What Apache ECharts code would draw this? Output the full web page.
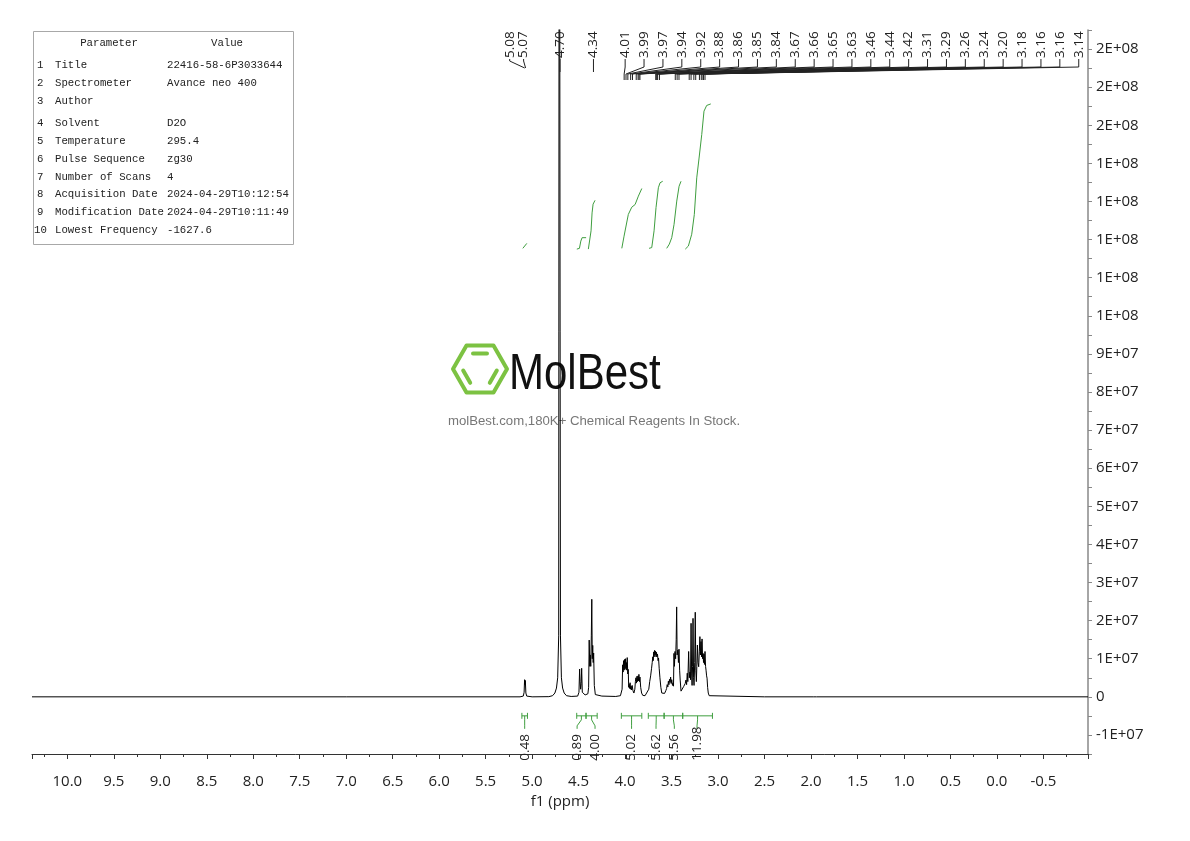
<!DOCTYPE html>
<html><head><meta charset="utf-8">
<script src="https://cdn.jsdelivr.net/npm/echarts@6/dist/echarts.min.js"></script>
<style>html,body{margin:0;padding:0;background:#fff}#c{width:1190px;height:841px}</style>
</head><body><div id="c"></div>
<script>
// ---- data ----
const spectrum = [
  [10.38, 0], [7.0, 0], [5.13, 0],
  [5.095, 0.2e6], [5.086, 1.2e6], [5.081, 4.5e6], [5.077, 3.2e6], [5.073, 4.3e6], [5.067, 1.0e6], [5.058, 0.2e6],
  [5.0, 0], [4.82, 0.05e6], [4.78, 0.3e6], [4.755, 1.0e6], [4.738, 2.3e6], [4.725, 5e6], [4.714, 1.6e7],
  [4.708, 3.0e8], [4.701, 3.0e8],
  [4.695, 1.6e7], [4.685, 5e6], [4.672, 2.3e6], [4.655, 1.0e6], [4.63, 0.3e6], [4.58, 0.1e6], [4.51, 0.2e6],
  [4.496, 1.2e6], [4.489, 7.3e6], [4.484, 4.0e6], [4.478, 2.0e6], [4.472, 3.5e6], [4.467, 7.5e6], [4.46, 1.2e6],
  [4.43, 0.5e6], [4.40, 0.8e6],
  [4.392, 2.5e6], [4.386, 1.49e7], [4.380, 8e6], [4.375, 1.1e7], [4.369, 8e6], [4.363, 1.6e7], [4.358, 2.56e7],
  [4.353, 1.0e7], [4.348, 1.35e7], [4.343, 9e6], [4.338, 1.15e7], [4.331, 3e6], [4.32, 0.6e6],
  [4.25, 0.2e6], [4.10, 0.1e6], [4.05, 0.3e6],
  [4.032, 2.0e6], [4.026, 8.4e6], [4.021, 6.5e6], [4.016, 9.5e6], [4.011, 7.0e6], [4.006, 9.8e6], [4.001, 7.2e6],
  [3.996, 1.0e7], [3.991, 7.5e6], [3.986, 9.0e6], [3.982, 7.0e6], [3.977, 1.03e7], [3.971, 6e6], [3.966, 7.2e6],
  [3.961, 2.5e6], [3.956, 3.3e6], [3.951, 2.2e6], [3.946, 3.7e6], [3.941, 2.0e6], [3.935, 2.8e6], [3.93, 1.8e6],
  [3.924, 3.0e6], [3.915, 1.6e6], [3.905, 1.0e6], [3.895, 2.0e6],
  [3.889, 4.0e6], [3.883, 5.0e6], [3.878, 3.6e6], [3.872, 5.4e6], [3.867, 4.0e6], [3.861, 5.5e6], [3.856, 4.2e6],
  [3.851, 5.9e6], [3.845, 4.0e6], [3.840, 5.2e6], [3.832, 2.5e6], [3.822, 1.0e6], [3.81, 0.4e6], [3.785, 0.3e6], [3.765, 0.8e6],
  [3.745, 2e6], [3.735, 4e6], [3.725, 5.5e6], [3.715, 7.5e6], [3.708, 9e6], [3.702, 1.05e7], [3.697, 9.5e6],
  [3.692, 1.18e7], [3.687, 1.05e7], [3.682, 1.22e7], [3.677, 1.1e7], [3.672, 1.2e7], [3.667, 1.05e7], [3.662, 1.17e7],
  [3.657, 1.05e7], [3.651, 1.12e7], [3.645, 9.5e6], [3.64, 1.02e7], [3.633, 7.5e6], [3.625, 5e6], [3.615, 2.5e6],
  [3.605, 1.0e6], [3.59, 0.6e6],
  [3.575, 0.9e6], [3.562, 1.6e6], [3.553, 2.2e6], [3.547, 3.2e6], [3.54, 2.6e6], [3.534, 4.1e6], [3.528, 3.2e6],
  [3.522, 4.6e6], [3.516, 3.8e6], [3.51, 5.2e6], [3.504, 3.5e6], [3.498, 4.5e6], [3.49, 3.0e6], [3.484, 3.6e6], [3.479, 2.8e6],
  [3.474, 1.14e7], [3.469, 8e6], [3.463, 1.19e7], [3.456, 1.0e7], [3.45, 1.5e7], [3.445, 2.36e7], [3.44, 1.1e7],
  [3.432, 1.23e7], [3.426, 9e6], [3.42, 1.25e7], [3.413, 7e6], [3.407, 4.4e6], [3.398, 1.5e6], [3.388, 1.2e6],
  [3.378, 2.0e6], [3.37, 2.7e6],
  [3.362, 2.4e6], [3.353, 3.5e6], [3.345, 4.4e6], [3.338, 3.2e6], [3.331, 6.2e6], [3.325, 4.0e6], [3.316, 1.19e7],
  [3.309, 5e6], [3.302, 6.5e6], [3.296, 4.5e6], [3.29, 1.93e7], [3.284, 6e6], [3.279, 3e6], [3.274, 8e6],
  [3.269, 2.06e7], [3.263, 5e6], [3.258, 3e6], [3.251, 9e6], [3.245, 2.22e7], [3.239, 7e6], [3.233, 4e6],
  [3.228, 8e6], [3.222, 1.36e7], [3.215, 9e6], [3.208, 7.9e6], [3.201, 1.2e7], [3.195, 1.58e7], [3.189, 1.1e7],
  [3.183, 1.45e7], [3.177, 1.05e7], [3.172, 1.52e7], [3.166, 1.0e7], [3.161, 1.14e7], [3.156, 9e6], [3.151, 1.12e7],
  [3.146, 8.5e6], [3.14, 1.19e7], [3.134, 8e6], [3.129, 7.0e6], [3.123, 5.5e6], [3.118, 4.9e6], [3.112, 2.5e6],
  [3.105, 1.0e6], [3.095, 0.3e6], [3.08, 0],
  [2.5, 0], [1.97, 0], [1.955, 0.5e6], [1.94, 0], [-0.98, 0]
];

const integralCurves = [
  [[5.10, 1.177e8], [5.08, 1.182e8], [5.057, 1.190e8]],
  [[4.519, 1.175e8], [4.491, 1.177e8], [4.476, 1.196e8], [4.462, 1.205e8], [4.419, 1.205e8]],
  [[4.395, 1.175e8], [4.380, 1.178e8], [4.366, 1.223e8], [4.355, 1.270e8], [4.344, 1.293e8], [4.323, 1.303e8]],
  [[4.035, 1.177e8], [4.011, 1.209e8], [3.965, 1.266e8], [3.928, 1.285e8], [3.892, 1.292e8], [3.857, 1.314e8], [3.820, 1.334e8]],
  [[3.742, 1.177e8], [3.713, 1.179e8], [3.688, 1.223e8], [3.667, 1.284e8], [3.642, 1.336e8], [3.624, 1.349e8], [3.595, 1.353e8]],
  [[3.552, 1.177e8], [3.524, 1.188e8], [3.498, 1.205e8], [3.473, 1.240e8], [3.444, 1.301e8], [3.419, 1.340e8], [3.398, 1.353e8]],
  [[3.352, 1.175e8], [3.319, 1.183e8], [3.283, 1.214e8], [3.255, 1.266e8], [3.229, 1.362e8], [3.204, 1.414e8], [3.175, 1.476e8], [3.151, 1.537e8], [3.122, 1.552e8], [3.078, 1.556e8]]
];

const integralRanges = [[5.11, 5.05], [4.52, 4.42], [4.42, 4.30], [4.04, 3.82], [3.75, 3.58], [3.58, 3.38], [3.38, 3.06]];
const integralLabels = ['0.48', '0.89', '4.00', '5.02', '5.62', '5.56', '11.98'];
const integralLabelPpm = [5.08, 4.516, 4.323, 3.93, 3.667, 3.47, 3.226];

const peakLabels = ['5.08','5.07','4.70','4.34','4.01','3.99','3.97','3.94','3.92','3.88','3.86','3.85','3.84',
  '3.67','3.66','3.65','3.63','3.46','3.44','3.42','3.31','3.29','3.26','3.24','3.20','3.18','3.16','3.16','3.14'];
const peakPpm = [5.08,5.07,4.70,4.34,4.01,3.99,3.97,3.94,3.92,3.88,3.86,3.85,3.84,
  3.67,3.66,3.65,3.63,3.46,3.44,3.42,3.31,3.29,3.26,3.24,3.20,3.18,3.162,3.157,3.14];

const paramNames = ['Title','Spectrometer','Author','Solvent','Temperature','Pulse Sequence','Number of Scans','Acquisition Date','Modification Date','Lowest Frequency'];
const paramValues = ['22416-58-6P3033644','Avance neo 400','','D2O','295.4','zg30','4','2024-04-29T10:12:54','2024-04-29T10:11:49','-1627.6'];

// ---- drawing ----
const FONT = '"Open Sans", "Noto Sans", sans-serif';
const chart = echarts.init(document.getElementById('c'), null, {renderer: 'canvas'});

function sciLabel(v) {
  const k = Math.round(v / 5e6);
  if (k % 2 !== 0) return '';
  if (k === 0) return '0';
  const val = k * 5e6, a = Math.abs(val);
  let e = Math.floor(Math.log10(a) + 1e-9);
  let m = Math.round(a / Math.pow(10, e));
  if (m === 10) { m = 1; e++; }
  return (val < 0 ? '-' : '') + m + 'E+' + String(e).padStart(2, '0');
}

const tableRows = [65, 83, 101, 123, 141, 159, 177, 194, 212, 230];
const tableFont = '10.7px "Liberation Mono", monospace';
const tcol = '#222';
const graphic = [
  {type: 'rect', z: 10, shape: {x: 33.5, y: 31.5, width: 260, height: 213}, style: {fill: '#fff', stroke: '#a8a8a8', lineWidth: 1}},
  {type: 'text', z: 11, x: 109, y: 43, style: {text: 'Parameter', font: tableFont, fill: tcol, align: 'center', verticalAlign: 'middle'}},
  {type: 'text', z: 11, x: 227, y: 43, style: {text: 'Value', font: tableFont, fill: tcol, align: 'center', verticalAlign: 'middle'}}
];
paramNames.forEach((n, i) => {
  const y = tableRows[i];
  graphic.push({type: 'text', z: 11, x: i === 9 ? 34 : 37, y, style: {text: String(i + 1), font: tableFont, fill: tcol, verticalAlign: 'middle'}});
  graphic.push({type: 'text', z: 11, x: 55, y, style: {text: n, font: tableFont, fill: tcol, verticalAlign: 'middle'}});
  graphic.push({type: 'text', z: 11, x: 167, y, style: {text: paramValues[i], font: tableFont, fill: tcol, verticalAlign: 'middle'}});
});
// watermark logo
(function () {
  const cx = 480, cy = 369, R = 27, pts = [];
  for (let k = 0; k < 6; k++) { const a = k * Math.PI / 3; pts.push([cx + R * Math.cos(a), cy - R * Math.sin(a)]); }
  const green = '#7cc242';
  graphic.push({type: 'polygon', z: 1, shape: {points: pts}, style: {fill: null, stroke: green, lineWidth: 4, lineJoin: 'round'}});
  graphic.push({type: 'line', z: 1, shape: {x1: 473, y1: 353.6, x2: 487, y2: 353.6}, style: {stroke: green, lineWidth: 4, lineCap: 'round'}});
  graphic.push({type: 'line', z: 1, shape: {x1: 463.2, y1: 370.6, x2: 470.2, y2: 382.8}, style: {stroke: green, lineWidth: 4, lineCap: 'round'}});
  graphic.push({type: 'line', z: 1, shape: {x1: 496.8, y1: 370.6, x2: 489.8, y2: 382.8}, style: {stroke: green, lineWidth: 4, lineCap: 'round'}});
  graphic.push({type: 'text', z: 1, x: 509, y: 375, scaleX: 0.84, style: {text: 'MolBest', font: '50px "Liberation Sans", sans-serif', fill: '#111', verticalAlign: 'middle'}});
  graphic.push({type: 'text', z: 1, x: 594, y: 421, style: {text: 'molBest.com,180K+ Chemical Reagents In Stock.', font: '13.2px "Liberation Sans", sans-serif', fill: '#777', align: 'center', verticalAlign: 'middle'}});
})();

const series = [
  {type: 'line', data: spectrum, showSymbol: false, symbol: 'none', clip: true, z: 3,
   lineStyle: {color: '#000', width: 1}, animation: false}
];
integralCurves.forEach(c => series.push({type: 'line', data: c, showSymbol: false, symbol: 'none', smooth: false, z: 3,
  lineStyle: {color: '#3f9e3f', width: 1}, animation: false}));

// integration brackets and values
series.push({
  type: 'custom', z: 4, animation: false, clip: false,
  data: integralRanges.map((r, i) => [r[0], r[1], integralLabelPpm[i], i]),
  encode: {x: [0, 1, 2]},
  renderItem: function (params, api) {
    const i = params.dataIndex;
    const x1 = api.coord([integralRanges[i][0], 0])[0];
    const x2 = api.coord([integralRanges[i][1], 0])[0];
    const lx = api.coord([integralLabelPpm[i], 0])[0];
    const zy = api.coord([0, 0])[1];
    const by = zy + 19, cap = 3;
    const mx = (x1 + x2) / 2;
    const g = '#3f9e3f';
    const ch = [
      {type: 'line', shape: {x1, y1: by, x2, y2: by}, style: {stroke: g, lineWidth: 1}},
      {type: 'line', shape: {x1, y1: by - cap, x2: x1, y2: by + cap}, style: {stroke: g, lineWidth: 1}},
      {type: 'line', shape: {x1: x2, y1: by - cap, x2: x2, y2: by + cap}, style: {stroke: g, lineWidth: 1}},
      {type: 'polyline', shape: {points: [[mx, by], [mx, by + 4], [lx, by + 10], [lx, by + 13]]}, style: {stroke: g, fill: null, lineWidth: 1}},
      {type: 'text', x: lx, y: zy + 64, rotation: Math.PI / 2,
       style: {text: integralLabels[i], fontSize: 13.5, fontFamily: FONT, fill: '#222', align: 'left', verticalAlign: 'middle'}}
    ];
    return {type: 'group', children: ch};
  }
});

// peak labels
series.push({
  type: 'custom', z: 4, animation: false, clip: false,
  data: peakPpm.map((p, i) => [p, 0]),
  encode: {x: 0, y: 1},
  renderItem: function (params, api) {
    const i = params.dataIndex;
    const px = api.coord([peakPpm[i], 0])[0];
    const top = params.coordSys.y;
    let lx = px;
    if (i >= 4) lx = api.coord([peakPpm[4], 0])[0] + 1 + (i - 4) * 18.9;
    else if (i === 0) lx = px - 15;
    else if (i === 1) lx = px - 2;
    const ch = [{type: 'text', x: lx, y: top + 28, rotation: Math.PI / 2,
      style: {text: peakLabels[i], fontSize: 13.5, fontFamily: FONT, fill: '#222', align: 'left', verticalAlign: 'middle'}}];
    let pts;
    if (i >= 4) pts = [[lx, top + 29], [lx, top + 37], [px, top + 44], [px, top + 50]];
    else if (i < 2) pts = [[lx, top + 29], [lx, top + 31], [px, top + 38]];
    else pts = [[lx, top + 29], [lx, top + 42]];
    ch.push({type: 'polyline', shape: {points: pts}, style: {stroke: '#222', fill: null, lineWidth: 1}});
    return {type: 'group', children: ch};
  }
});

chart.setOption({
  animation: false,
  backgroundColor: '#fff',
  grid: {left: 32, right: 102, top: 30, bottom: 87, containLabel: false},
  xAxis: {
    type: 'value', inverse: true, min: -0.98, max: 10.38, splitNumber: 22,
    name: 'f1 (ppm)', nameLocation: 'middle', nameGap: 39,
    nameTextStyle: {fontSize: 15, fontFamily: FONT, color: '#222'},
    axisLine: {show: true, onZero: false, lineStyle: {color: '#333', width: 1}},
    axisTick: {show: true, length: 5, lineStyle: {color: '#333'}},
    minorTick: {show: true, splitNumber: 2, length: 3, lineStyle: {color: '#333'}},
    splitLine: {show: false},
    axisLabel: {showMinLabel: false, showMaxLabel: false, margin: 20, fontSize: 15, fontFamily: FONT, color: '#222',
      formatter: v => v.toFixed(1)}
  },
  yAxis: {
    type: 'value', position: 'right', min: -1.5e7, max: 1.75e8, interval: 5e6,
    axisLine: {show: true, onZero: false, lineStyle: {color: '#888', width: 1.5}},
    axisTick: {show: true, length: 4, lineStyle: {color: '#888'}},
    splitLine: {show: false},
    axisLabel: {margin: 8, fontSize: 15, fontFamily: FONT, color: '#222', formatter: sciLabel}
  },
  graphic: graphic,
  series: series
});
</script></body></html>
